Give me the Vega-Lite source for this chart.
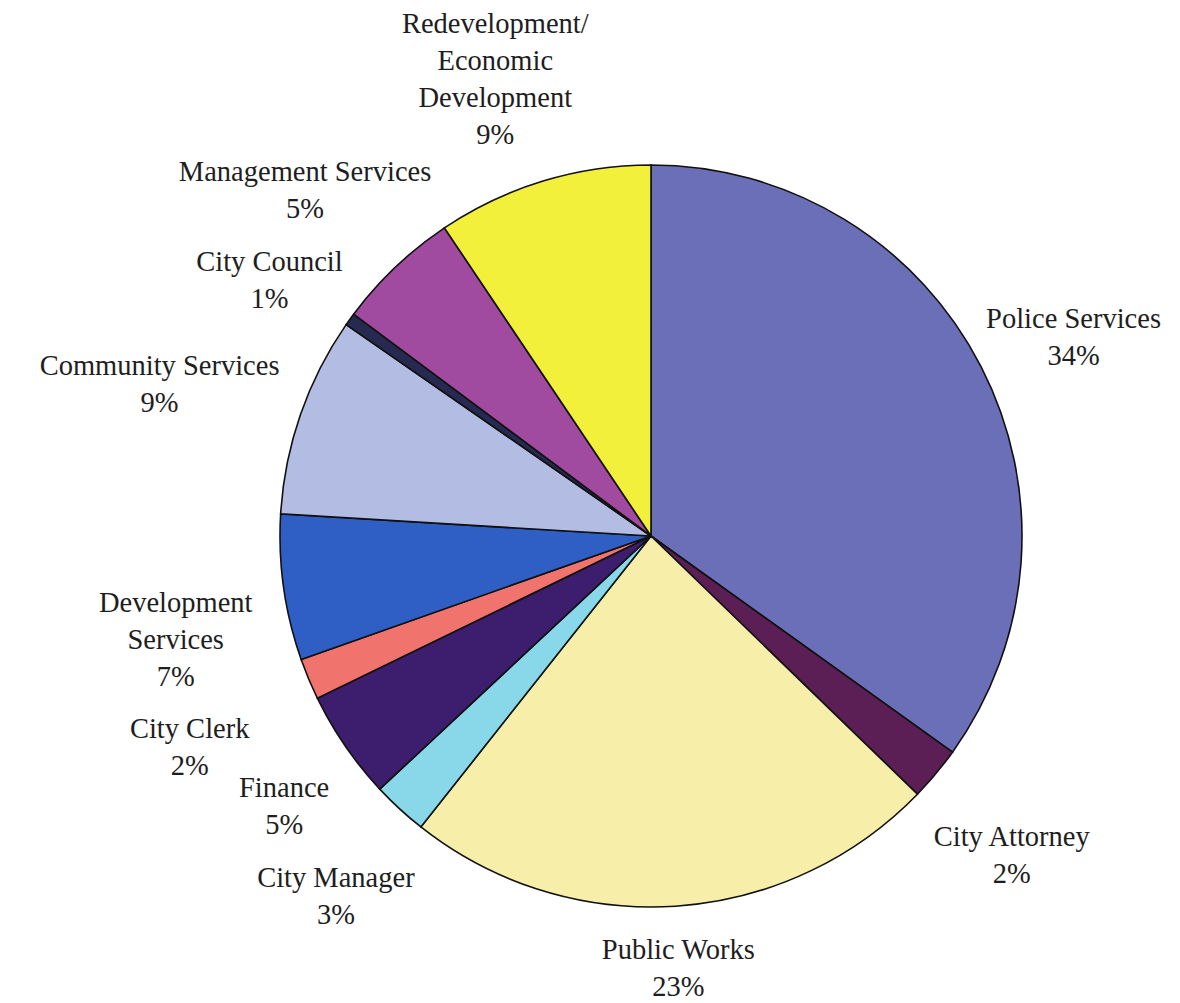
{
  "$schema": "https://vega.github.io/schema/vega-lite/v6.json",
  "width": 1058,
  "height": 934,
  "autosize": {"type": "none"},
  "padding": {"left": 122, "top": 69, "right": 0, "bottom": 0},
  "background": "white",
  "view": {"stroke": null},
  "data": {
    "values": [
      {"order": 1, "name": "Police Services", "pct": 34.9, "label": "Police Services\n34%"},
      {"order": 2, "name": "City Attorney", "pct": 2.35, "label": "City Attorney\n2%"},
      {"order": 3, "name": "Public Works", "pct": 23.4, "label": "Public Works\n23%"},
      {"order": 4, "name": "City Manager", "pct": 2.4, "label": "City Manager\n3%"},
      {"order": 5, "name": "Finance", "pct": 4.75, "label": "Finance\n5%"},
      {"order": 6, "name": "City Clerk", "pct": 1.8, "label": "City Clerk\n2%"},
      {"order": 7, "name": "Development Services", "pct": 6.35, "label": "Development\nServices\n7%"},
      {"order": 8, "name": "Community Services", "pct": 8.7, "label": "Community Services\n9%"},
      {"order": 9, "name": "City Council", "pct": 0.55, "label": "City Council\n1%"},
      {"order": 10, "name": "Management Services", "pct": 5.4, "label": "Management Services\n5%"},
      {"order": 11, "name": "Redevelopment/Economic Development", "pct": 9.4, "label": "Redevelopment/\nEconomic\nDevelopment\n9%"}
    ]
  },
  "encoding": {
    "theta": {"field": "pct", "type": "quantitative", "stack": true},
    "order": {"field": "order", "type": "quantitative"}
  },
  "layer": [
    {
      "mark": {"type": "arc", "outerRadius": 371, "stroke": "#111111", "strokeWidth": 1.6},
      "encoding": {
        "color": {
          "field": "name",
          "type": "nominal",
          "legend": null,
          "scale": {
            "domain": ["Police Services", "City Attorney", "Public Works", "City Manager", "Finance", "City Clerk", "Development Services", "Community Services", "City Council", "Management Services", "Redevelopment/Economic Development"],
            "range": ["#6b6fb7", "#5c1f55", "#f7eeaa", "#88d8ea", "#3d1d6e", "#f0736d", "#2f5fc4", "#b3bde3", "#262a50", "#a04aa0", "#f2f03a"]
          }
        }
      }
    },
    {
      "mark": {
        "type": "text",
        "font": "Liberation Serif",
        "fontSize": 28.5,
        "lineHeight": 37,
        "lineBreak": "\n",
        "color": "#1e1e1e",
        "align": "center",
        "baseline": "middle",
        "radius": {"expr": "datum.name === 'Police Services' ? 475 : datum.name === 'City Attorney' ? 470 : datum.name === 'Public Works' ? 415 : datum.name === 'City Manager' ? 465 : datum.name === 'Finance' ? 445 : datum.name === 'City Clerk' ? 500 : datum.name === 'Community Services' ? 520 : datum.name === 'City Council' ? 470 : datum.name === 'Management Services' ? 502 : datum.name === 'Redevelopment/Economic Development' ? 535 : 480"}
      },
      "encoding": {
        "text": {"field": "label", "type": "nominal"}
      }
    }
  ]
}
